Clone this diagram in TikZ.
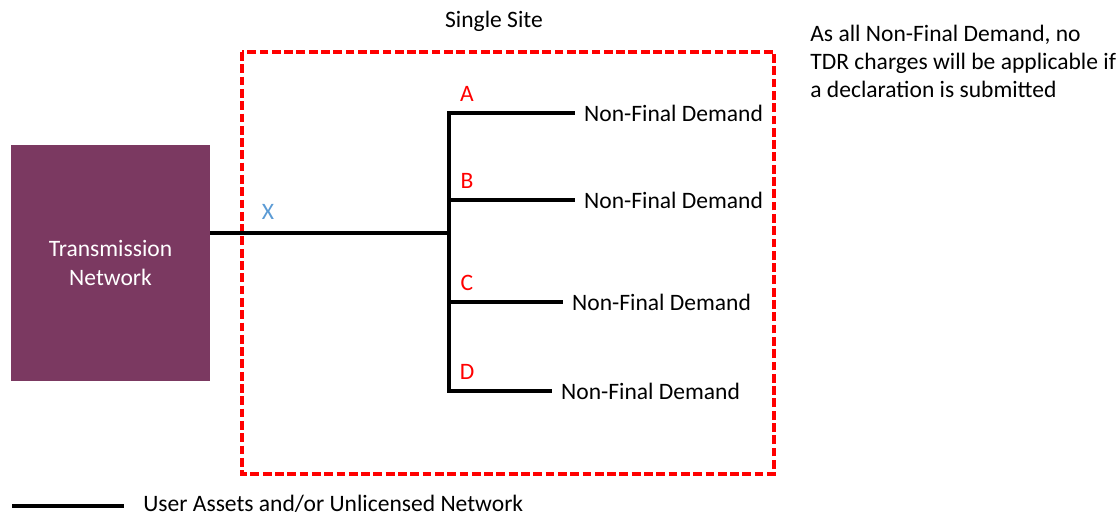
\documentclass[tikz,border=0pt]{standalone}
\usepackage{fontspec}
\setmainfont{Carlito}
\usetikzlibrary{positioning}
\definecolor{tnpurple}{RGB}{123,57,97}
\definecolor{sitered}{RGB}{255,0,0}
\definecolor{xblue}{RGB}{91,155,213}

\begin{document}
\begin{tikzpicture}[
				x = 0.02cm, y = -0.02cm,
				every node/.style = {font=\fontsize{13.4}{16}\selectfont},
				wire/.style = {black, line width=1.8pt},
				demand/.style = {anchor=west, inner sep=5pt},
				tag/.style = {text=red},
			]
			\path[use as bounding box] (0,0) rectangle (1119,515);
			\node[fill=tnpurple, text=white, align=center, inner sep=0, minimum width=3.98cm, minimum height=4.72cm] (tn) at (110.5,263) {Transmission\\Network};
			\draw[sitered, line width=1.8pt, dash pattern=on 5pt off 2pt] (242,52) rectangle (774,474);
			\node (site) at (494,21) {Single Site};
			\coordinate (jX) at (449,233);
			\draw[wire] (jX -| tn.east) -- (jX);
			\node[text=xblue] (x) at (268,212) {X};
			\foreach \n/\y/\e in {A/113/575, B/200/575, C/302/563, D/391/552} {
					\coordinate (j\n) at (449,\y);
					\node[demand] (nfd\n) at (\e,\y) {Non-Final Demand};
					\node[tag] (lab\n) at (467,\y-19) {\n};
					\draw[wire] (j\n) -- (nfd\n.west);
				}
			\draw[wire, line cap=rect] (jA) -- (jD);
			\node[anchor=north west, align=left, inner sep=0] (note) at (810,25) {As all Non-Final Demand, no\\TDR charges will be applicable if\\a declaration is submitted};
			\coordinate (leg0) at (12,506);
			\coordinate (leg1) at (124,506);
			\draw[wire] (leg0) -- (leg1);
			\node[anchor=base west, inner sep=0] (legtext) at (143,511) {User Assets and/or Unlicensed Network};
		\end{tikzpicture}
\end{document}
